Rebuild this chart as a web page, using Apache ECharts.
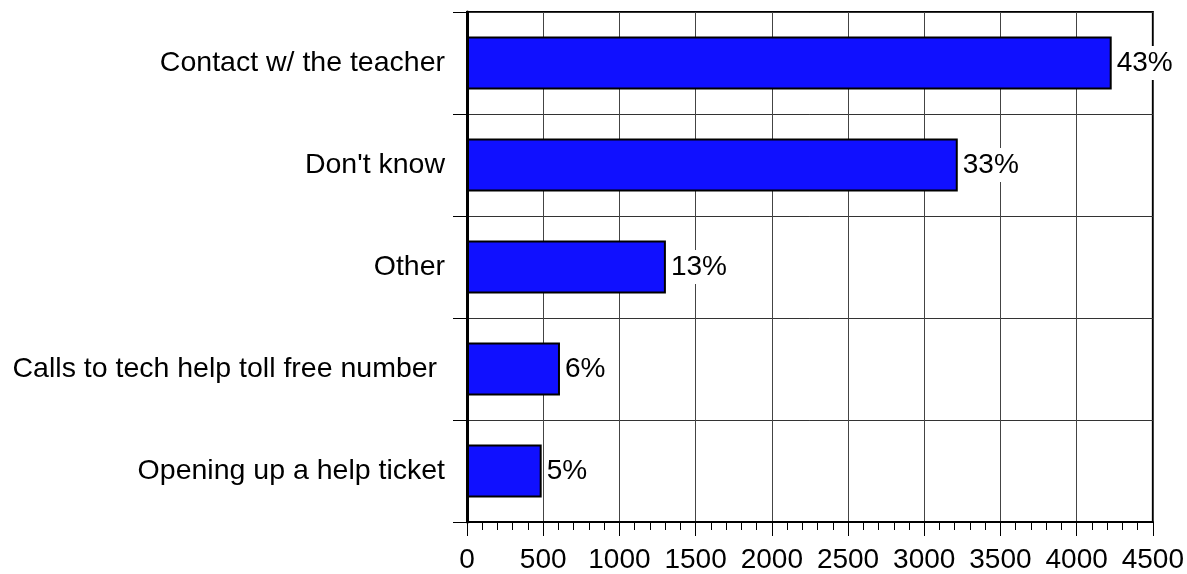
<!DOCTYPE html>
<html>
<head>
<meta charset="utf-8">
<script src="https://cdn.jsdelivr.net/npm/echarts@6/dist/echarts.min.js"></script>
<style>
html,body{margin:0;padding:0;background:#fff;}
#chart{width:1187px;height:574px;}
</style>
</head>
<body>
<div id="chart"></div>
<script>
const categories = ["Contact w/ the teacher", "Don't know", "Other", "Calls to tech help toll free number ", "Opening up a help ticket"];
const counts = [4230, 3220, 1305, 610, 490];
const percents = [43, 33, 13, 6, 5];
const xTicks = [0, 500, 1000, 1500, 2000, 2500, 3000, 3500, 4000, 4500];

const chart = echarts.init(document.getElementById('chart'), null, {renderer: 'canvas'});
const font = 'Liberation Sans, Arial, sans-serif';
chart.setOption({
  animation: false,
  backgroundColor: '#fff',
  grid: {left: 467, right: 34, top: 12, bottom: 51, show: true, borderColor: '#000', borderWidth: 2, containLabel: false},
  xAxis: {
    type: 'value',
    min: xTicks[0], max: xTicks[xTicks.length - 1], interval: 500,
    axisLine: {show: true, lineStyle: {color: '#000', width: 2}},
    axisTick: {show: true, inside: false, length: 14, lineStyle: {color: '#000', width: 1}},
    minorTick: {show: true, splitNumber: 5, length: 8, lineStyle: {color: '#000', width: 1}},
    splitLine: {show: true, lineStyle: {color: '#444', width: 1}},
    axisLabel: {fontFamily: font, fontSize: 28, color: '#000', margin: 24, formatter: v => String(v)}
  },
  yAxis: {
    type: 'category',
    data: categories,
    inverse: true,
    axisLine: {show: true, lineStyle: {color: '#000', width: 3}},
    axisTick: {show: true, inside: false, length: 14, lineStyle: {color: '#000', width: 1}},
    splitLine: {show: true, lineStyle: {color: '#333', width: 1}},
    axisLabel: {fontFamily: font, fontSize: 28.5, color: '#000', margin: 22, padding: [6, 0, 0, 0]}
  },
  series: [{
    type: 'bar',
    data: counts,
    barWidth: 53,
    itemStyle: {color: '#1010ff', borderColor: '#000', borderWidth: 2},
    label: {
      show: true, position: 'right', distance: 3,
      fontFamily: font, fontSize: 28, color: '#000',
      backgroundColor: '#fff', padding: [6, 2, 0, 2],
      formatter: p => percents[p.dataIndex] + '%'
    },
    z: 3
  }]
});
</script>
</body>
</html>
